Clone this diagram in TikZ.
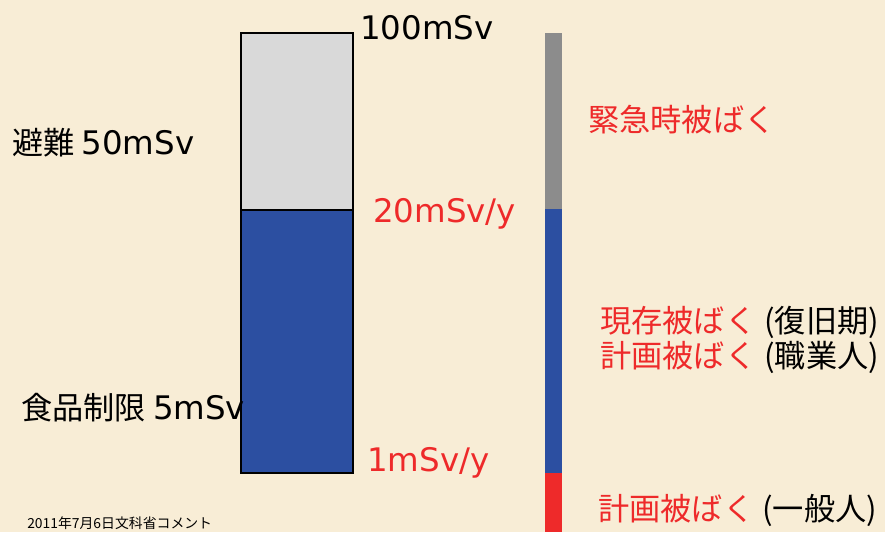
\documentclass[tikz,border=0pt]{standalone}
\usepackage{fontspec}
\setmainfont{Noto Sans CJK JP}
\newfontfamily\lat[Scale=1.04]{DejaVu Sans}
\definecolor{bg}{HTML}{F8EDD6}
\definecolor{boxgrey}{HTML}{D9D9D9}
\definecolor{boxblue}{HTML}{2C4FA1}
\definecolor{bargrey}{HTML}{8C8C8C}
\definecolor{barred}{HTML}{EE2A2A}
\definecolor{txtred}{HTML}{EE2A2A}
\newcommand{\pgap}{\hspace{6pt}}
\tikzset{
  lbl/.style={anchor=west, inner sep=0pt, font=\fontsize{23.4pt}{27pt}\selectfont},
  small/.style={anchor=west, inner sep=0pt, font=\fontsize{10.4pt}{12pt}\selectfont},
}
\begin{document}
\begin{tikzpicture}[x=0.75pt,y=-0.75pt]
\fill[bg] (0,0) rectangle (885,532);
\useasboundingbox (0,0) rectangle (885,532);
% main column
\fill[boxgrey] (241,33) rectangle (353,210);
\fill[boxblue] (241,210) rectangle (353,473);
\draw[black, line width=0.9pt] (241,33) rectangle (353,473);
\draw[black, line width=0.9pt] (241,210) -- (353,210);
% right bar
\fill[bargrey] (545,33) rectangle (562,209);
\fill[boxblue] (545,209) rectangle (562,473);
\fill[barred] (545,473) rectangle (562,532);
% labels
\node[lbl] (t100) at (360,28) {\lat 100mSv};
\node[lbl] (t50) at (12,143) {避難 {\lat 50mSv}};
\node[lbl, text=txtred] (t20) at (373,214) {\lat 20mSv/y};
\node[lbl] (t5) at (21,408) {食品制限 {\lat 5mSv}};
\node[lbl, text=txtred] (t1) at (367,463) {\lat 1mSv/y};
\node[lbl, text=txtred] (e1) at (588,120) {緊急時被ばく};
\node[lbl] (e2) at (600,322) {\textcolor{txtred}{現存被ばく}\pgap(復旧期)};
\node[lbl] (e3) at (600,357) {\textcolor{txtred}{計画被ばく}\pgap(職業人)};
\node[lbl] (e4) at (598,510) {\textcolor{txtred}{計画被ばく}\pgap(一般人)};
\node[small] (src) at (27,523) {2011年7月6日文科省コメント};
\end{tikzpicture}
\end{document}
